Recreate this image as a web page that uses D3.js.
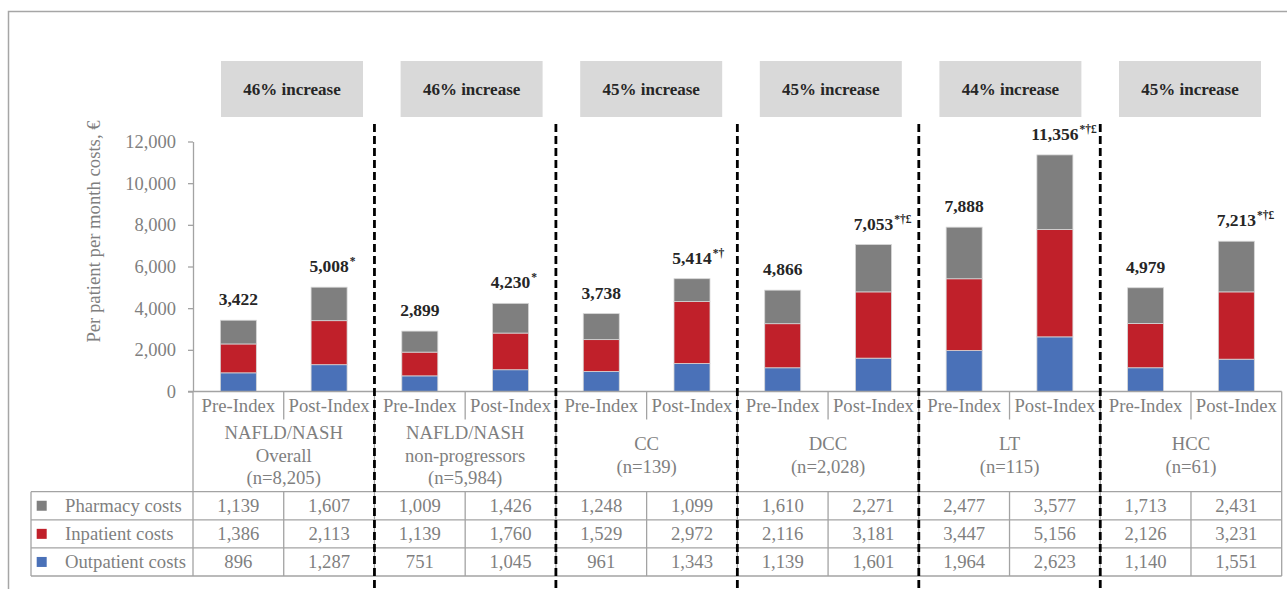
<!DOCTYPE html>
<html>
<head>
<meta charset="utf-8">
<script src="https://cdn.jsdelivr.net/npm/d3@7"></script>
<style>
  html, body { margin: 0; padding: 0; background: #ffffff; }
  svg { display: block; }
</style>
</head>
<body>
<svg id="chart" width="1287" height="589"></svg>
<script>
// ---- data ----
const groups = [
  ["NAFLD/NASH", "Overall", "(n=8,205)"],
  ["NAFLD/NASH", "non-progressors", "(n=5,984)"],
  ["CC", "(n=139)"],
  ["DCC", "(n=2,028)"],
  ["LT", "(n=115)"],
  ["HCC", "(n=61)"]
];
const periods = ["Pre-Index", "Post-Index"];
const increases = ["46% increase", "46% increase", "45% increase", "45% increase", "44% increase", "45% increase"];

// one value per bar: group order, Pre-Index then Post-Index
const pharmacy   = [1139, 1607, 1009, 1426, 1248, 1099, 1610, 2271, 2477, 3577, 1713, 2431];
const inpatient  = [1386, 2113, 1139, 1760, 1529, 2972, 2116, 3181, 3447, 5156, 2126, 3231];
const outpatient = [896, 1287, 751, 1045, 961, 1343, 1139, 1601, 1964, 2623, 1140, 1551];
const totals     = [3422, 5008, 2899, 4230, 3738, 5414, 4866, 7053, 7888, 11356, 4979, 7213];
const marks      = ["", "*", "", "*", "", "*†", "", "*†£", "", "*†£", "", "*†£"];

const seriesNames  = ["Pharmacy costs", "Inpatient costs", "Outpatient costs"];
const seriesKeys   = ["pharmacy", "inpatient", "outpatient"];
const seriesColors = ["#7f7f7f", "#c0202a", "#4a71b8"];
const yTicks = [0, 2000, 4000, 6000, 8000, 10000, 12000];

// ---- layout ----
const serif = "'Liberation Serif', 'Times New Roman', serif";
const grey = "#7f7f7f";
const ink = "#262626";
const rule = "#a3a3a3";
const plotLeft = 193, plotRight = 1281.7;
const yBase = 391.5, yTop = 141.5;
const barW = 36;
const catBottom = 491.7, rowH = 28.1;
const tableLeft = 31;

const rows = d3.range(totals.length).map(i => ({
  i, pharmacy: pharmacy[i], inpatient: inpatient[i], outpatient: outpatient[i]
}));

const svg = d3.select("#chart");

const x = d3.scaleBand().domain(d3.range(rows.length)).range([plotLeft, plotRight]).padding(0);
const gx = d3.scaleBand().domain(d3.range(groups.length)).range([plotLeft, plotRight]).padding(0);
const y = d3.scaleLinear().domain([0, 12000]).range([yBase, yTop]);
const color = d3.scaleOrdinal().domain(seriesKeys).range(seriesColors);

// outer frame
svg.append("rect")
  .attr("x", 8.5).attr("y", 11.5).attr("width", 1300).attr("height", 600)
  .attr("fill", "none").attr("stroke", "#a6a6a6").attr("stroke-width", 1.5);

// percentage banners
const bx = d3.scaleLinear().domain([0, 1]).range([221, 400.6]);
const banners = svg.append("g");
increases.forEach((t, k) => {
  banners.append("rect")
    .attr("x", bx(k)).attr("y", 61).attr("width", 142).attr("height", 56)
    .attr("fill", "#d9d9d9");
  banners.append("text")
    .attr("x", bx(k) + 71).attr("y", 95)
    .attr("text-anchor", "middle")
    .attr("font-family", serif).attr("font-weight", "bold").attr("font-size", 17)
    .attr("fill", ink)
    .text(t);
});

// y axis
const yAxis = d3.axisLeft(y).tickValues(yTicks).tickFormat(d3.format(",")).tickSize(5).tickSizeOuter(0).tickPadding(12);
const ya = svg.append("g").attr("transform", `translate(${plotLeft},0)`).call(yAxis);
ya.select(".domain").attr("stroke", rule).attr("stroke-width", 1.3);
ya.selectAll(".tick line").attr("stroke", rule).attr("stroke-width", 1.3);
ya.selectAll(".tick text").attr("font-family", serif).attr("font-size", 18.5).attr("fill", grey);

svg.append("text")
  .attr("transform", `translate(100,${(yTop + yBase) / 2 - 35}) rotate(-90)`)
  .attr("text-anchor", "middle")
  .attr("font-family", serif).attr("font-size", 18.7).attr("fill", grey)
  .text("Per patient per month costs, €");

// stacked bars
const stacked = d3.stack().keys(["outpatient", "inpatient", "pharmacy"])(rows);
svg.append("g").selectAll("g").data(stacked).join("g")
  .attr("fill", d => color(d.key))
  .selectAll("rect").data(d => d).join("rect")
  .attr("x", d => x(d.data.i) + (x.bandwidth() - barW) / 2)
  .attr("width", barW)
  .attr("y", d => y(d[1]))
  .attr("height", d => y(d[0]) - y(d[1]))
  .attr("stroke", "#d6d6d6").attr("stroke-width", 0.8);

// total labels
const tl = svg.append("g");
totals.forEach((v, i) => {
  const cx = x(i) + x.bandwidth() / 2;
  const yy = y(v) - 15;
  const t = tl.append("text")
    .attr("x", cx).attr("y", yy)
    .attr("font-family", serif).attr("font-weight", "bold").attr("font-size", 17.5)
    .attr("fill", ink)
    .text(d3.format(",")(v));
  const w = t.node().getComputedTextLength();
  t.attr("x", cx - w / 2);
  if (marks[i]) {
    tl.append("text")
      .attr("x", cx + w / 2 + 1).attr("y", yy - 7)
      .attr("font-family", serif).attr("font-weight", "bold").attr("font-size", 11.5)
      .attr("fill", ink)
      .text(marks[i]);
  }
});

// category area and table rules
const lines = svg.append("g").attr("stroke", rule).attr("stroke-width", 1.3);
lines.append("line").attr("x1", plotLeft - 5).attr("x2", plotRight).attr("y1", yBase).attr("y2", yBase);
const tableBottom = catBottom + rowH * seriesNames.length;
d3.range(seriesNames.length + 1).forEach(r => {
  const yy = catBottom + r * rowH;
  lines.append("line").attr("x1", tableLeft).attr("x2", plotRight).attr("y1", yy).attr("y2", yy);
});
lines.append("line").attr("x1", tableLeft).attr("x2", tableLeft).attr("y1", catBottom).attr("y2", tableBottom);
d3.range(rows.length + 1).forEach(i => {
  const xx = i < rows.length ? x(i) : plotRight;
  const groupEdge = i % 2 === 0;
  lines.append("line").attr("x1", xx).attr("x2", xx)
    .attr("y1", yBase).attr("y2", groupEdge ? tableBottom : yBase + 28);
  if (!groupEdge) {
    lines.append("line").attr("x1", xx).attr("x2", xx).attr("y1", catBottom).attr("y2", tableBottom);
  }
});

// period labels
rows.forEach(d => {
  svg.append("text")
    .attr("x", x(d.i) + x.bandwidth() / 2).attr("y", 412)
    .attr("text-anchor", "middle")
    .attr("font-family", serif).attr("font-size", 18.7).attr("fill", grey)
    .text(periods[d.i % 2]);
});

// group labels
groups.forEach((g, k) => {
  const cx = gx(k) + gx.bandwidth() / 2;
  g.forEach((line, j) => {
    svg.append("text")
      .attr("x", cx).attr("y", 461.7 + (j - (g.length - 1) / 2) * 22.5)
      .attr("text-anchor", "middle")
      .attr("font-family", serif).attr("font-size", 18.7).attr("fill", grey)
      .text(line);
  });
});

// table: legend keys and values
const seriesValues = [pharmacy, inpatient, outpatient];
seriesNames.forEach((name, r) => {
  const cy = catBottom + r * rowH + rowH / 2;
  svg.append("rect")
    .attr("x", 36.7).attr("y", cy - 5).attr("width", 10).attr("height", 10)
    .attr("fill", color(seriesKeys[r]));
  svg.append("text")
    .attr("x", 65).attr("y", cy + 6.5)
    .attr("font-family", serif).attr("font-size", 18.7).attr("fill", grey)
    .text(name);
  seriesValues[r].forEach((v, i) => {
    svg.append("text")
      .attr("x", x(i) + x.bandwidth() / 2).attr("y", cy + 6.5)
      .attr("text-anchor", "middle")
      .attr("font-family", serif).attr("font-size", 18.7).attr("fill", grey)
      .text(d3.format(",")(v));
  });
});

// dashed separators between groups
d3.range(1, groups.length).forEach(k => {
  svg.append("line")
    .attr("x1", gx(k)).attr("x2", gx(k))
    .attr("y1", 124).attr("y2", 589)
    .attr("stroke", "#000").attr("stroke-width", 2.8)
    .attr("stroke-dasharray", "8,4");
});
</script>
</body>
</html>
